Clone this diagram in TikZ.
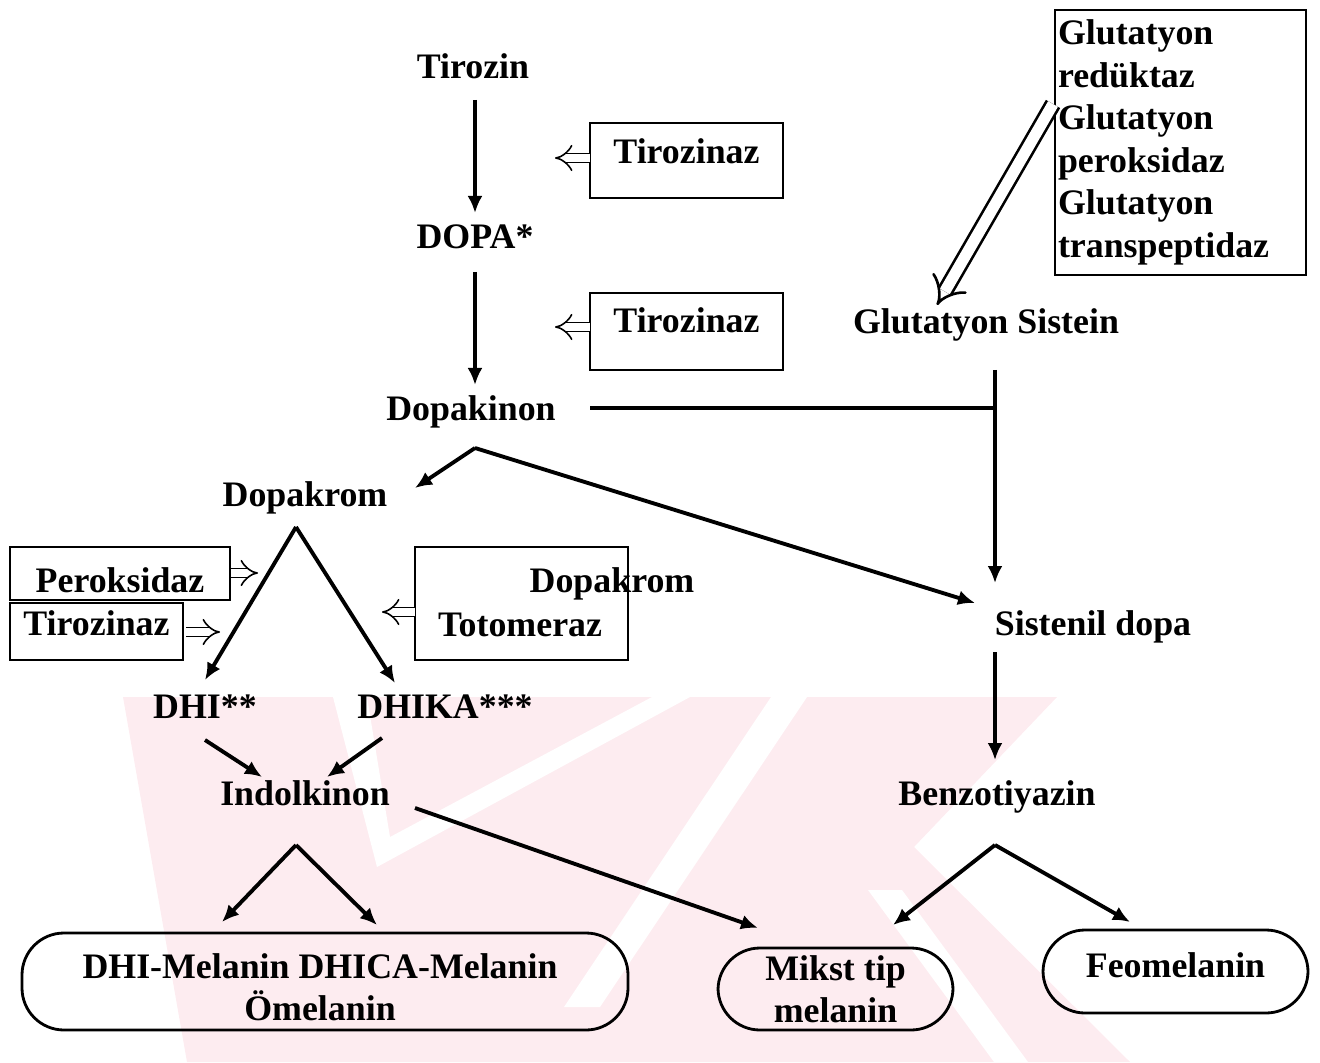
\documentclass[tikz,border=0pt]{standalone}
\usepackage{fontspec}
\setmainfont{Liberation Serif}
\usetikzlibrary{arrows.meta,positioning,calc}
\definecolor{filigran}{RGB}{253,236,240}

\begin{document}
\begin{tikzpicture}[font=\fontsize{10.2}{12.1}\selectfont\bfseries]
    % Stiller
    \tikzset{
        madde/.style={inner sep=1pt},
        kutu/.style={rectangle, draw, line width=0.6pt, inner sep=0pt},
        sonuc/.style={rectangle, draw, rounded corners=0.42cm, line width=0.8pt, align=center, inner sep=0pt},
        ok/.style={line width=1.1pt, -{Latex[length=0.17cm,width=0.15cm]}},
        cizgi/.style={line width=1.1pt},
        enzim/.style={double, double distance=2.2pt, line width=0.45pt, -{Implies}}
    }
    \useasboundingbox (0,0) rectangle (13.2,10.62);

    % Filigran
    \begin{scope}
        \clip (0,0) rectangle (13.2,3.65);
        \fill[filigran] (1.23,3.65) -- (10.57,3.65) -- (9.14,2.15) -- (11.30,0) -- (1.87,0) -- cycle;
        \fill[white] (3.33,3.65) -- (3.67,3.65) -- (3.90,2.25) -- (6.52,3.65) -- (6.90,3.65) -- (3.77,1.95) -- cycle;
        \fill[white] (7.71,3.65) -- (8.07,3.65) -- (6.00,0.55) -- (5.64,0.55) -- cycle;
        \fill[white] (8.68,1.72) -- (9.02,1.72) -- (10.28,0) -- (9.94,0) -- cycle;
    \end{scope}

    % Ana yol
    \node[madde] (tirozin) at (4.73,9.96) {Tirozin};
    \node[madde] (dopa) at (4.75,8.25) {DOPA*};
    \node[madde] (dopakinon) at (4.71,6.50) {Dopakinon};
    \node[madde] (dopakrom) at (3.05,5.64) {Dopakrom};
    \node[madde] (dhi) at (2.05,3.55) {DHI**};
    \node[madde] (dhika) at (4.45,3.55) {DHIKA***};
    \node[madde] (indol) at (3.05,2.69) {Indolkinon};

    % Sistein yolu
    \node[madde] (sistein) at (9.86,7.37) {Glutatyon Sistein};
    \node[madde] (sistenil) at (10.93,4.35) {Sistenil dopa};
    \node[madde] (benzo) at (9.97,2.65) {Benzotiyazin};

    % Enzimler
    \node[kutu, minimum width=1.93cm, minimum height=0.75cm, text height=0.25cm, text depth=0.184cm] (tz1) at (6.865,9.015) {Tirozinaz};
    \node[kutu, minimum width=1.93cm, minimum height=0.77cm, text height=0.25cm, text depth=0.224cm] (tz2) at (6.865,7.305) {Tirozinaz};
    \node[kutu, text width=2.45cm, align=left, inner xsep=0.03cm, minimum height=2.65cm] (glut) at (11.805,9.195)
        {Glutatyon\\redüktaz\\Glutatyon\\peroksidaz\\Glutatyon\\transpeptidaz};
    \node[kutu, minimum width=2.2cm, minimum height=0.53cm, text height=0.37cm, text depth=0cm] (perok) at (1.20,4.885) {Peroksidaz};
    \node[kutu, minimum width=1.73cm, minimum height=0.57cm, text height=0.25cm, text depth=0.164cm] (tz3) at (0.965,4.305) {Tirozinaz};
    \node[kutu, minimum width=2.13cm, minimum height=1.13cm] (totom) at (5.215,4.585) {};
    \node[madde] (totom1) at (6.12,4.78) {Dopakrom};
    \node[madde] (totom2) at (5.20,4.37) {Totomeraz};

    % Melaninler
    \node[sonuc, minimum width=6.06cm, minimum height=0.97cm,
        label={[align=center, yshift=-0.055cm, xshift=-0.05cm]center:DHI-Melanin DHICA-Melanin\\Ömelanin}] (eu) at (3.25,0.805) {};
    \node[sonuc, minimum width=2.35cm, minimum height=0.82cm] (mikst) at (8.355,0.73) {Mikst tip\\melanin};
    \node[sonuc, minimum width=2.65cm, minimum height=0.83cm, text height=0.25cm, text depth=0.124cm] (feo) at (11.755,0.905) {Feomelanin};

    % Ara noktalar
    \coordinate (c1) at (4.75,9.62);
    \coordinate (c2) at (4.75,8.49);
    \coordinate (c3) at (4.75,7.90);
    \coordinate (c4) at (4.75,6.77);
    \coordinate (dallan1) at (4.75,6.14);
    \coordinate (kol1) at (4.15,5.74);
    \coordinate (kol2) at (9.75,4.59);
    \coordinate (yatay) at (5.90,6.54);
    \coordinate (kavsak) at (9.95,6.54);
    \coordinate (s1) at (9.95,6.92);
    \coordinate (s2) at (9.95,4.79);
    \coordinate (s3) at (9.95,4.10);
    \coordinate (s4) at (9.95,3.02);
    \coordinate (tepe1) at (2.96,5.35);
    \coordinate (d1) at (2.05,3.82);
    \coordinate (d2) at (3.95,3.79);
    \coordinate (i1) at (2.05,3.22);
    \coordinate (i2) at (2.62,2.85);
    \coordinate (i3) at (3.82,3.24);
    \coordinate (i4) at (3.27,2.85);
    \coordinate (m1) at (4.15,2.54);
    \coordinate (m2) at (7.58,1.34);
    \coordinate (tepe2) at (2.96,2.17);
    \coordinate (e1) at (2.22,1.40);
    \coordinate (e2) at (3.77,1.37);
    \coordinate (tepe3) at (9.95,2.17);
    \coordinate (f1) at (8.93,1.37);
    \coordinate (f2) at (11.30,1.40);
    \coordinate (g1) at (10.53,9.58);
    \coordinate (g2) at (9.37,7.57);
    \coordinate (z1) at (5.55,9.04);
    \coordinate (z1b) at (5.90,9.04);
    \coordinate (z2) at (5.55,7.35);
    \coordinate (z2b) at (5.90,7.35);
    \coordinate (p1) at (2.58,4.89);
    \coordinate (t3) at (2.20,4.30);
    \coordinate (t4) at (3.82,4.50);
    \coordinate (t4b) at (4.15,4.50);

    % Oklar
    \draw[ok] (c1) -- (c2);
    \draw[ok] (c3) -- (c4);
    \draw[ok] (dallan1) -- (kol1);
    \draw[ok] (dallan1) -- (kol2);
    \draw[cizgi] (yatay) -- (kavsak);
    \draw[ok, line width=0.9pt] (s1) -- (s2);
    \draw[ok, line width=0.9pt] (s3) -- (s4);
    \draw[ok] (tepe1) -- (d1);
    \draw[ok] (tepe1) -- (d2);
    \draw[ok] (i1) -- (i2);
    \draw[ok] (i3) -- (i4);
    \draw[ok] (m1) -- (m2);
    \draw[ok] (tepe2) -- (e1);
    \draw[ok] (tepe2) -- (e2);
    \draw[ok] (tepe3) -- (f1);
    \draw[ok] (tepe3) -- (f2);

    % Enzim oklari
    \draw[enzim] (z1b) -- (z1);
    \draw[enzim] (z2b) -- (z2);
    \draw[enzim, line width=0.75pt, double distance=3.2pt] (g1) -- (g2);
    \draw[enzim] (perok.east |- p1) -- (p1);
    \draw[enzim] ([xshift=0.02cm]tz3.east |- t3) -- (t3);
    \draw[enzim] (t4b) -- (t4);

\end{tikzpicture}
\end{document}
